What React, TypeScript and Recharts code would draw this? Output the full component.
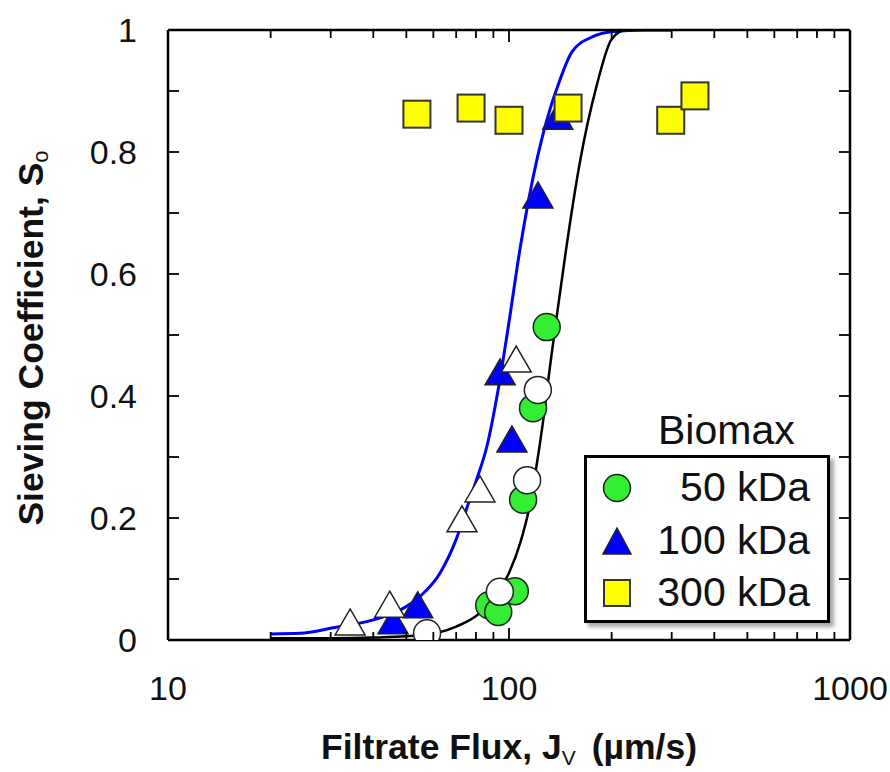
import {
  ComposedChart,
  Legend,
  Line,
  Scatter,
  XAxis,
  YAxis,
} from 'recharts';

// fitted model curves
const blueCurveX = [20, 24.4, 30.5, 40, 47.9, 55, 62.8, 70, 75.4, 80, 86, 92.9, 99.3, 108, 121, 129, 141, 153, 176, 200, 250, 300];
const blueCurveY = [0.01, 0.011, 0.02, 0.033, 0.049, 0.072, 0.11, 0.165, 0.218, 0.26, 0.316, 0.41, 0.51, 0.645, 0.79, 0.852, 0.918, 0.964, 0.989, 0.997, 1, 1];
const blackCurveX = [20, 30, 40, 50, 57.5, 62.8, 70, 82, 90, 100, 108, 115, 120, 126, 132, 138, 147, 161, 181, 200, 220, 250, 300];
const blackCurveY = [0.003, 0.003, 0.004, 0.006, 0.009, 0.013, 0.022, 0.044, 0.07, 0.11, 0.16, 0.22, 0.28, 0.36, 0.45, 0.53, 0.64, 0.78, 0.91, 0.985, 1, 1, 1];

// measured points
const green50X = [87.5, 93, 104, 110, 117.6, 129];
const green50Y = [0.057, 0.046, 0.08, 0.23, 0.38, 0.513];
const open50X = [57.5, 94, 113, 121.5];
const open50Y = [0.011, 0.079, 0.262, 0.41];
const blue100X = [45.7, 54, 94.2, 102, 121.6, 139];
const blue100Y = [0.03, 0.056, 0.438, 0.328, 0.728, 0.857];
const open100X = [34.2, 44.7, 72.8, 82.2, 105];
const open100Y = [0.028, 0.057, 0.197, 0.246, 0.459];
const yellow300X = [53.7, 77.4, 100, 149, 298, 351];
const yellow300Y = [0.862, 0.872, 0.852, 0.872, 0.852, 0.892];

const xTicks = [10, 20, 30, 40, 50, 60, 70, 80, 90, 100, 200, 300, 400, 500, 600, 700, 800, 900, 1000];
const xLabels = [10, 100, 1000];
const yTicks = [0, 0.1, 0.2, 0.3, 0.4, 0.5, 0.6, 0.7, 0.8, 0.9, 1];
const yLabels = [0, 0.2, 0.4, 0.6, 0.8, 1];

const legendItems = [
  { name: '50 kDa', shape: 'circle', fill: '#33ee33' },
  { name: '100 kDa', shape: 'triangle', fill: '#0000ff' },
  { name: '300 kDa', shape: 'square', fill: '#ffff00' },
];

const zip = (xs: number[], ys: number[]) => xs.map((x, i) => ({ x, y: ys[i] }));

const FONT = '"Liberation Sans", Arial, Helvetica, sans-serif';

const circleShape = (fill: string) => (p: any) => (
  <circle cx={p.cx} cy={p.cy} r={13.5} fill={fill} stroke="#222" strokeWidth={1.5} />
);
const triangleShape = (fill: string) => (p: any) => (
  <path
    d={`M${p.cx},${p.cy - 14} L${p.cx + 15},${p.cy + 12} L${p.cx - 15},${p.cy + 12} Z`}
    fill={fill}
    stroke="#222"
    strokeWidth={1.5}
  />
);
const squareShape = (fill: string) => (p: any) => (
  <rect x={p.cx - 13.5} y={p.cy - 13.5} width={27} height={27} fill={fill} stroke="#333" strokeWidth={2} />
);

const BottomTick = ({ x, y, payload }: any) => {
  const major = xLabels.includes(payload.value);
  return (
    <g>
      <line x1={x} x2={x} y1={y} y2={y - (major ? 12 : 8)} stroke="#000" strokeWidth={1.8} />
      {major && (
        <text x={x} y={y + 60} textAnchor="middle" fontSize={34} fontFamily={FONT} fill="#111">
          {payload.value}
        </text>
      )}
    </g>
  );
};

const TopTick = ({ x, y, payload }: any) => {
  const major = xLabels.includes(payload.value);
  return <line x1={x} x2={x} y1={y} y2={y + (major ? 12 : 8)} stroke="#000" strokeWidth={1.8} />;
};

const LeftTick = ({ x, y, payload }: any) => {
  const v = payload.value;
  const labelled = yLabels.some((l) => Math.abs(l - v) < 1e-6);
  return (
    <g>
      <line x1={x} x2={x + 11} y1={y} y2={y} stroke="#000" strokeWidth={1.8} />
      {labelled && (
        <text x={x - 31} y={y + 12} textAnchor="end" fontSize={34} fontFamily={FONT} fill="#111">
          {v === 0 ? '0' : v === 1 ? '1' : v.toFixed(1)}
        </text>
      )}
    </g>
  );
};

const RightTick = ({ x, y }: any) => (
  <line x1={x} x2={x - 11} y1={y} y2={y} stroke="#000" strokeWidth={1.8} />
);

const XTitle = ({ viewBox }: any) => {
  const cx = viewBox.x + viewBox.width / 2;
  return (
    <text x={cx} y={759} textAnchor="middle" fontFamily={FONT} fontWeight="bold" fontSize={35.5} fill="#111">
      Filtrate Flux, J
      <tspan fontSize={21} fontWeight="normal" dy={6}>V</tspan>
      <tspan dy={-6} dx={16}>(µm/s)</tspan>
    </text>
  );
};

const YTitle = () => (
  <text
    x={43}
    y={338}
    transform="rotate(-90, 43, 338)"
    textAnchor="middle"
    fontFamily={FONT}
    fontWeight="bold"
    fontSize={35.5}
    fill="#111"
  >
    Sieving Coefficient, S
    <tspan fontSize={22} fontWeight="normal" dy={5}>o</tspan>
  </text>
);

const LegendIcon = ({ shape, fill }: { shape: string; fill: string }) => (
  <svg width={34} height={34} style={{ position: 'absolute', left: -17, top: -17 }}>
    {shape === 'circle' && <circle cx={17} cy={17} r={13.5} fill={fill} stroke="#222" strokeWidth={1.5} />}
    {shape === 'triangle' && <path d="M17,3 L31,29 L3,29 Z" fill={fill} stroke="#222" strokeWidth={1.5} />}
    {shape === 'square' && <rect x={4} y={4} width={26} height={26} fill={fill} stroke="#333" strokeWidth={2} />}
  </svg>
);

const BiomaxLegend = () => (
  <div style={{ position: 'relative', width: 246, height: 225, fontFamily: FONT, color: '#111' }}>
    <div style={{ position: 'absolute', left: 74, top: 10, fontSize: 41, lineHeight: '41px', whiteSpace: 'nowrap' }}>
      Biomax
    </div>
    <div
      style={{
        position: 'absolute',
        left: 0,
        top: 55,
        width: 246,
        height: 168,
        boxSizing: 'border-box',
        border: '3px solid #000',
        background: '#fff',
        boxShadow: '4px 4px 4px rgba(0,0,0,0.35)',
      }}
    />
    {legendItems.map((item, i) => (
      <div key={item.name}>
        <div style={{ position: 'absolute', left: 33, top: [88, 142, 193][i], width: 0, height: 0 }}>
          <LegendIcon shape={item.shape} fill={item.fill} />
        </div>
        <div
          style={{
            position: 'absolute',
            right: 20,
            top: [67, 120, 172][i],
            fontSize: 41,
            lineHeight: '41px',
            whiteSpace: 'nowrap',
          }}
        >
          {item.name}
        </div>
      </div>
    ))}
  </div>
);

export default function App() {
  return (
    <div style={{ position: 'absolute', left: 0, top: 0, width: 890, height: 772, background: '#fff' }}>
      <ComposedChart width={890} height={772} margin={{ top: 20, right: 30, bottom: 92, left: 108 }}>
        <XAxis
          xAxisId="bottom"
          dataKey="x"
          type="number"
          scale="log"
          domain={[10, 1000]}
          allowDataOverflow
          ticks={xTicks}
          interval={0}
          height={40}
          tickSize={0}
          tickMargin={0}
          tickLine={false}
          tick={BottomTick}
          axisLine={{ stroke: '#000', strokeWidth: 2.5 }}
          label={{ content: XTitle }}
        />
        <XAxis
          xAxisId="top"
          orientation="top"
          dataKey="x"
          type="number"
          scale="log"
          domain={[10, 1000]}
          allowDataOverflow
          ticks={xTicks}
          interval={0}
          height={10}
          tickSize={0}
          tickMargin={0}
          tickLine={false}
          tick={TopTick}
          axisLine={{ stroke: '#000', strokeWidth: 2.5 }}
        />
        <YAxis
          yAxisId="left"
          dataKey="y"
          type="number"
          domain={[0, 1]}
          allowDataOverflow
          ticks={yTicks}
          interval={0}
          width={60}
          tickSize={0}
          tickMargin={0}
          tickLine={false}
          tick={LeftTick}
          axisLine={{ stroke: '#000', strokeWidth: 2.5 }}
          label={{ content: YTitle }}
        />
        <YAxis
          yAxisId="right"
          orientation="right"
          dataKey="y"
          type="number"
          domain={[0, 1]}
          allowDataOverflow
          ticks={yTicks}
          interval={0}
          width={10}
          tickSize={0}
          tickMargin={0}
          tickLine={false}
          tick={RightTick}
          axisLine={{ stroke: '#000', strokeWidth: 2.5 }}
        />
        <Line
          xAxisId="bottom"
          yAxisId="left"
          data={zip(blueCurveX, blueCurveY)}
          dataKey="y"
          type="monotone"
          stroke="#0000ff"
          strokeWidth={3}
          dot={false}
          activeDot={false}
          isAnimationActive={false}
        />
        <Line
          xAxisId="bottom"
          yAxisId="left"
          data={zip(blackCurveX, blackCurveY)}
          dataKey="y"
          type="monotone"
          stroke="#000"
          strokeWidth={2.5}
          dot={false}
          activeDot={false}
          isAnimationActive={false}
        />
        <Scatter xAxisId="bottom" yAxisId="left" data={zip(green50X, green50Y)} dataKey="y" shape={circleShape('#33ee33')} isAnimationActive={false} />
        <Scatter xAxisId="bottom" yAxisId="left" data={zip(blue100X, blue100Y)} dataKey="y" shape={triangleShape('#0000ff')} isAnimationActive={false} />
        <Scatter xAxisId="bottom" yAxisId="left" data={zip(open100X, open100Y)} dataKey="y" shape={triangleShape('#ffffff')} isAnimationActive={false} />
        <Scatter xAxisId="bottom" yAxisId="left" data={zip(open50X, open50Y)} dataKey="y" shape={circleShape('#ffffff')} isAnimationActive={false} />
        <Scatter xAxisId="bottom" yAxisId="left" data={zip(yellow300X, yellow300Y)} dataKey="y" shape={squareShape('#ffff00')} isAnimationActive={false} />
        <Legend
          layout="horizontal"
          verticalAlign="middle"
          align="center"
          content={() => <BiomaxLegend />}
          wrapperStyle={{ left: 584, top: 400, width: 246, height: 225 }}
        />
      </ComposedChart>
    </div>
  );
}
